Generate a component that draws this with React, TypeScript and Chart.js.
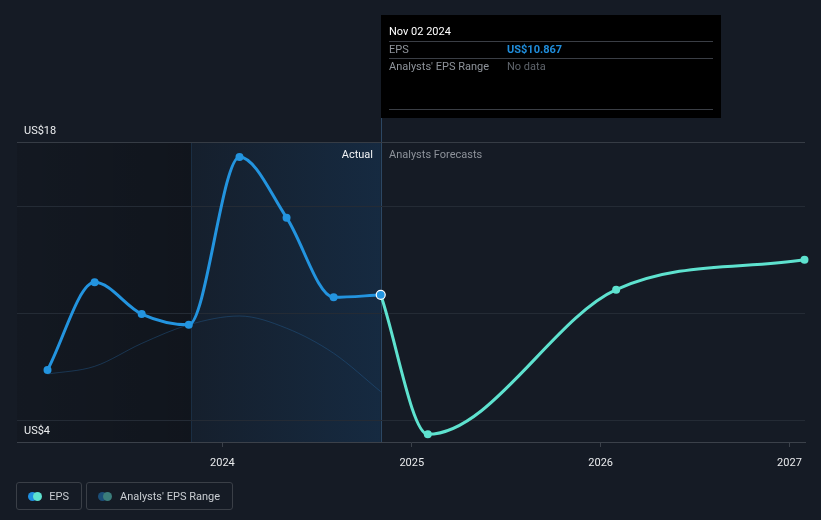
import React, { useEffect, useRef } from "react";
import { Chart, registerables } from "chart.js";

Chart.register(...registerables);

// ---- data ----
const actualDates = [
  "2023-01-28", "2023-04-29", "2023-07-29", "2023-10-28",
  "2024-02-03", "2024-05-04", "2024-08-03", "2024-11-02",
];
const actualEps = [7.36, 11.45, 9.97, 9.47, 17.3, 14.47, 10.75, 10.867];

const forecastDates = ["2024-11-02", "2025-02-01", "2026-01-31", "2027-01-30"];
const forecastEps = [10.867, 4.36, 11.11, 12.51];

const rangeDates = actualDates;
const rangeEps = [7.17, 7.53, 8.6, 9.47, 9.88, 9.31, 8.14, 6.35];

const yearTicks = [2024, 2025, 2026, 2027];
const yTickValues = [4, 5, 10, 15, 18];
const yLabelValues = [4, 18];
const xMinDate = "2022-11-30";
const xMaxDate = "2027-01-31";
const lastYearStart = "2023-11-02";

const BG = "#151b25";
const BLUE = "#2394df";
const TEAL = "#5ee2cf";

const ts = (s: string) => Date.parse(s + "T00:00:00Z");
const MONTHS = ["Jan", "Feb", "Mar", "Apr", "May", "Jun", "Jul", "Aug", "Sep", "Oct", "Nov", "Dec"];
const fmtDate = (s: string) => {
  const d = new Date(ts(s));
  return `${MONTHS[d.getUTCMonth()]} ${String(d.getUTCDate()).padStart(2, "0")} ${d.getUTCFullYear()}`;
};

const FONT = "Roboto, 'Noto Sans', sans-serif";

const backdropPlugin = {
  id: "backdrop",
  beforeDraw(chart: any) {
    const { ctx, chartArea: a, scales } = chart;
    const x = scales.x;
    ctx.save();
    ctx.fillStyle = BG;
    ctx.fillRect(0, 0, chart.width, chart.height);
    const xEnd = x.getPixelForValue(ts(actualDates[actualDates.length - 1]));
    const xStart = x.getPixelForValue(ts(lastYearStart));
    // darker past region
    const g1 = ctx.createLinearGradient(a.left, 0, xStart, 0);
    g1.addColorStop(0, "rgba(0,0,0,0.10)");
    g1.addColorStop(1, "rgba(0,0,0,0.22)");
    ctx.fillStyle = g1;
    ctx.fillRect(a.left, a.top, xStart - a.left, a.bottom - a.top);
    // last-year highlight
    const g2 = ctx.createLinearGradient(xStart, 0, xEnd, 0);
    g2.addColorStop(0, "rgba(25,110,190,0.05)");
    g2.addColorStop(1, "rgba(25,110,190,0.18)");
    ctx.fillStyle = g2;
    ctx.fillRect(xStart, a.top, xEnd - xStart, a.bottom - a.top);
    // vertical lines
    ctx.lineWidth = 1;
    ctx.strokeStyle = "rgba(40,80,120,0.35)";
    ctx.beginPath();
    ctx.moveTo(Math.round(xStart) + 0.5, a.top);
    ctx.lineTo(Math.round(xStart) + 0.5, a.bottom);
    ctx.stroke();
    ctx.strokeStyle = "#2c4763";
    ctx.beginPath();
    ctx.moveTo(Math.round(xEnd) + 0.5, 15);
    ctx.lineTo(Math.round(xEnd) + 0.5, a.bottom);
    ctx.stroke();
    ctx.restore();
  },
  afterDraw(chart: any) {
    const { ctx, chartArea: a, scales } = chart;
    const x = scales.x;
    const xEnd = Math.round(x.getPixelForValue(ts(actualDates[actualDates.length - 1])));
    ctx.save();
    ctx.textBaseline = "middle";
    ctx.font = `11px ${FONT}`;
    ctx.textAlign = "right";
    ctx.fillStyle = "#f2f3f5";
    ctx.fillText("Actual", xEnd - 8, a.top + 13);
    ctx.textAlign = "left";
    ctx.fillStyle = "#8d929a";
    ctx.fillText("Analysts Forecasts", xEnd + 8, a.top + 13);

    // tooltip box
    const bx = xEnd;
    const by = 15;
    const bw = 340;
    const bh = 103;
    ctx.fillStyle = "#000000";
    ctx.fillRect(bx, by, bw, bh);
    ctx.strokeStyle = "#3a3e45";
    ctx.lineWidth = 1;
    [41, 58, 109].forEach((yy) => {
      ctx.beginPath();
      ctx.moveTo(bx + 8, yy + 0.5);
      ctx.lineTo(bx + bw - 8, yy + 0.5);
      ctx.stroke();
    });
    ctx.textAlign = "left";
    ctx.font = `11px ${FONT}`;
    ctx.fillStyle = "#ffffff";
    ctx.fillText(fmtDate(actualDates[actualDates.length - 1]), bx + 8, 32);
    ctx.fillStyle = "#8f949b";
    ctx.fillText("EPS", bx + 8, 50);
    ctx.fillText("Analysts' EPS Range", bx + 8, 67.5);
    ctx.font = `bold 11px ${FONT}`;
    ctx.fillStyle = "#1f8ddb";
    ctx.fillText("US$" + actualEps[actualEps.length - 1].toFixed(3), bx + 126, 50);
    ctx.font = `11px ${FONT}`;
    ctx.fillStyle = "#5f646b";
    ctx.fillText("No data", bx + 126, 67.5);
    ctx.restore();
  },
};

export default function App() {
  const ref = useRef<HTMLCanvasElement | null>(null);

  useEffect(() => {
    if (!ref.current) return;
    const lastIdx = actualDates.length - 1;
    const chart = new Chart(ref.current, {
      type: "line",
      data: {
        datasets: [
          {
            label: "EPS",
            data: actualDates.map((d, i) => ({ x: ts(d), y: actualEps[i] })),
            borderColor: BLUE,
            backgroundColor: BLUE,
            borderWidth: 3,
            cubicInterpolationMode: "monotone",
            pointRadius: actualDates.map((_, i) => (i === lastIdx ? 4.5 : 4)),
            pointBorderWidth: actualDates.map((_, i) => (i === lastIdx ? 1.2 : 0)),
            pointBorderColor: actualDates.map((_, i) => (i === lastIdx ? "#ffffff" : BLUE)),
            pointBackgroundColor: BLUE,
            order: 1,
            clip: 6,
          },
          {
            label: "Forecast",
            data: forecastDates.map((d, i) => ({ x: ts(d), y: forecastEps[i] })),
            borderColor: TEAL,
            backgroundColor: TEAL,
            borderWidth: 3,
            cubicInterpolationMode: "monotone",
            pointRadius: forecastDates.map((_, i) => (i === 0 ? 0 : 4)),
            pointBorderWidth: 0,
            pointBackgroundColor: TEAL,
            order: 2,
            clip: 4,
          },
          {
            label: "Analysts' EPS Range",
            data: rangeDates.map((d, i) => ({ x: ts(d), y: rangeEps[i] })),
            borderColor: "rgba(35,95,150,0.42)",
            borderWidth: 1,
            cubicInterpolationMode: "monotone",
            pointRadius: 0,
            order: 3,
          },
        ],
      },
      options: {
        animation: false,
        responsive: false,
        maintainAspectRatio: false,
        layout: { padding: { left: 17, right: 16, top: 142, bottom: 0 } },
        plugins: { legend: { display: false }, tooltip: { enabled: false } },
        events: [],
        scales: {
          x: {
            type: "linear",
            min: ts(xMinDate),
            max: ts(xMaxDate),
            afterBuildTicks: (scale: any) => {
              scale.ticks = yearTicks.map((yy) => ({ value: Date.UTC(yy, 0, 1) }));
            },
            afterFit: (scale: any) => {
              scale.height = 78;
            },
            grid: {
              drawOnChartArea: false,
              drawTicks: true,
              tickLength: 5,
              color: "#3b414a",
            },
            border: { display: true, color: "#3b414a", width: 1 },
            ticks: {
              color: "#e8eaec",
              font: { family: FONT, size: 11 },
              padding: 10,
              maxRotation: 0,
              autoSkip: false,
              callback: (v: any) => String(new Date(v).getUTCFullYear()),
            },
          },
          y: {
            min: 4,
            max: 18,
            afterBuildTicks: (scale: any) => {
              scale.ticks = yTickValues.map((v) => ({ value: v }));
            },
            afterFit: (scale: any) => {
              scale.width = 0;
            },
            border: { display: false },
            grid: {
              drawTicks: false,
              color: (c: any) => {
                const v = c.tick && c.tick.value;
                if (v === 4) return "rgba(0,0,0,0)";
                if (v === 18) return "#363c45";
                return "#242b35";
              },
            },
            ticks: {
              mirror: true,
              padding: 7,
              labelOffset: -11,
              color: "#eceef0",
              font: { family: FONT, size: 11 },
              autoSkip: false,
              callback: (v: any) => (yLabelValues.includes(Number(v)) ? "US$" + v : ""),
            },
          },
        },
      },
      plugins: [backdropPlugin],
    } as any);
    return () => chart.destroy();
  }, []);

  const box: React.CSSProperties = {
    position: "absolute",
    top: 482,
    height: 28,
    boxSizing: "border-box",
    border: "1px solid #3a3f47",
    borderRadius: 3,
    display: "flex",
    alignItems: "center",
    padding: "0 12px 0 11px",
    gap: 8,
    fontFamily: FONT,
    fontSize: 11,
    color: "#c9cdd2",
    whiteSpace: "nowrap",
  };
  const icon = (c1: string, c2: string) => (
    <span style={{ position: "relative", width: 14, height: 9, display: "inline-block" }}>
      <span style={{ position: "absolute", left: 0, top: 0, width: 9, height: 9, borderRadius: "50%", background: c1 }} />
      <span style={{ position: "absolute", left: 5, top: 0, width: 9, height: 9, borderRadius: "50%", background: c2 }} />
    </span>
  );

  return (
    <div style={{ position: "fixed", left: 0, top: 0, width: 821, height: 520, background: BG, overflow: "hidden" }}>
      <canvas ref={ref} width={821} height={520} style={{ display: "block", width: 821, height: 520 }} />
      <div style={{ ...box, left: 16, width: 66 }}>
        {icon("#1f8fe0", TEAL)}
        <span>EPS</span>
      </div>
      <div style={{ ...box, left: 86, width: 147 }}>
        {icon("#1b4e78", "#3b7d7b")}
        <span>Analysts' EPS Range</span>
      </div>
    </div>
  );
}
